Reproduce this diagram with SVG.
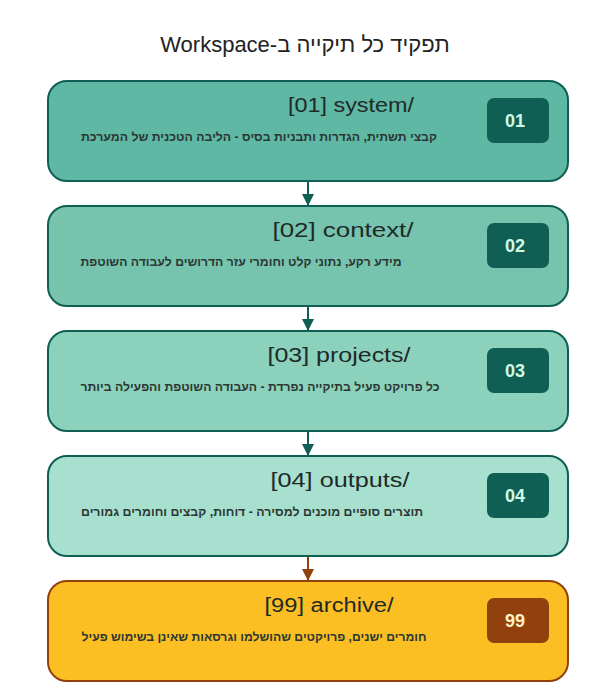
<svg xmlns="http://www.w3.org/2000/svg" width="597" height="692" viewBox="0 0 597 692">
<style>
  .box { stroke: #0f5f55; stroke-width: 2; }
  .amber { fill: #fbbf24; stroke: #92400e; stroke-width: 2; }
  .badge { fill: #0f5f55; }
  .badge5 { fill: #92400e; }
  .head { font-family: "Liberation Sans", "DejaVu Sans", sans-serif; font-size: 20px; fill: #1e2a28; text-anchor: middle; }
  .desc { font-family: "Liberation Sans", "DejaVu Sans", sans-serif; font-size: 12px; font-weight: bold; fill: #2b3733; text-anchor: middle; direction: rtl; unicode-bidi: embed; }
  .num { font-family: "Liberation Sans", "DejaVu Sans", sans-serif; font-size: 18px; font-weight: bold; fill: #d1fae5; text-anchor: middle; }
  .num5 { fill: #fef3c7; }
  .title { font-family: "Liberation Sans", "DejaVu Sans", sans-serif; font-size: 22px; fill: #222; text-anchor: middle; direction: rtl; unicode-bidi: embed; }
  .conn { stroke: #0f5f55; stroke-width: 2; fill: none; }
  .conn5 { stroke: #92400e; stroke-width: 2; fill: none; }
</style>
<defs>
  <marker id="ah" viewBox="0 0 12 12" refX="12" refY="6" markerWidth="12" markerHeight="12" markerUnits="userSpaceOnUse" orient="auto">
    <path d="M0,0 L12,6 L0,12 Z" fill="#0f5f55"/>
  </marker>
  <marker id="ah5" viewBox="0 0 12 12" refX="12" refY="6" markerWidth="12" markerHeight="12" markerUnits="userSpaceOnUse" orient="auto">
    <path d="M0,0 L12,6 L0,12 Z" fill="#92400e"/>
  </marker>
</defs>
<rect width="597" height="692" fill="#ffffff"/>
<text class="title" x="305" y="52">תפקיד כל תיקייה ב-Workspace</text>

<g id="connectors">
  <line class="conn" x1="308" y1="181" x2="308" y2="206" marker-end="url(#ah)"/>
  <line class="conn" x1="308" y1="306" x2="308" y2="331" marker-end="url(#ah)"/>
  <line class="conn" x1="308" y1="431" x2="308" y2="456" marker-end="url(#ah)"/>
  <line class="conn5" x1="308" y1="556" x2="308" y2="581" marker-end="url(#ah5)"/>
</g>

<g id="node-01">
  <rect class="box" x="48" y="81" width="520" height="100" rx="19" fill="#5fb8a4"/>
  <text class="head" x="351" y="112" textLength="126" lengthAdjust="spacingAndGlyphs">[01] system/</text>
  <text class="desc" x="259" y="141" textLength="356" lengthAdjust="spacingAndGlyphs">קבצי תשתית, הגדרות ותבניות בסיס - הליבה הטכנית של המערכת</text>
  <rect class="badge" x="487" y="98" width="62" height="45" rx="7"/>
  <text class="num" x="515" y="127">01</text>
</g>

<g id="node-02">
  <rect class="box" x="48" y="206" width="520" height="100" rx="19" fill="#76c4ae"/>
  <text class="head" x="343" y="237" textLength="141" lengthAdjust="spacingAndGlyphs">[02] context/</text>
  <text class="desc" x="241" y="266" textLength="321" lengthAdjust="spacingAndGlyphs">מידע רקע, נתוני קלט וחומרי עזר הדרושים לעבודה השוטפת</text>
  <rect class="badge" x="487" y="223" width="62" height="45" rx="7"/>
  <text class="num" x="515" y="252">02</text>
</g>

<g id="node-03">
  <rect class="box" x="48" y="331" width="520" height="100" rx="19" fill="#8bd1bc"/>
  <text class="head" x="339" y="362" textLength="143" lengthAdjust="spacingAndGlyphs">[03] projects/</text>
  <text class="desc" x="260" y="391" textLength="359" lengthAdjust="spacingAndGlyphs">כל פרויקט פעיל בתיקייה נפרדת - העבודה השוטפת והפעילה ביותר</text>
  <rect class="badge" x="487" y="348" width="62" height="45" rx="7"/>
  <text class="num" x="515" y="377">03</text>
</g>

<g id="node-04">
  <rect class="box" x="48" y="456" width="520" height="100" rx="19" fill="#a8e0cf"/>
  <text class="head" x="340" y="487" textLength="139" lengthAdjust="spacingAndGlyphs">[04] outputs/</text>
  <text class="desc" x="252" y="516" textLength="342" lengthAdjust="spacingAndGlyphs">תוצרים סופיים מוכנים למסירה - דוחות, קבצים וחומרים גמורים</text>
  <rect class="badge" x="487" y="473" width="62" height="45" rx="7"/>
  <text class="num" x="515" y="502">04</text>
</g>

<g id="node-99">
  <rect class="amber" x="48" y="581" width="520" height="100" rx="19"/>
  <text class="head" x="329" y="612" textLength="129" lengthAdjust="spacingAndGlyphs">[99] archive/</text>
  <text class="desc" x="254" y="641" textLength="345" lengthAdjust="spacingAndGlyphs">חומרים ישנים, פרויקטים שהושלמו וגרסאות שאינן בשימוש פעיל</text>
  <rect class="badge5" x="487" y="598" width="62" height="45" rx="7"/>
  <text class="num num5" x="515" y="627">99</text>
</g>
</svg>
